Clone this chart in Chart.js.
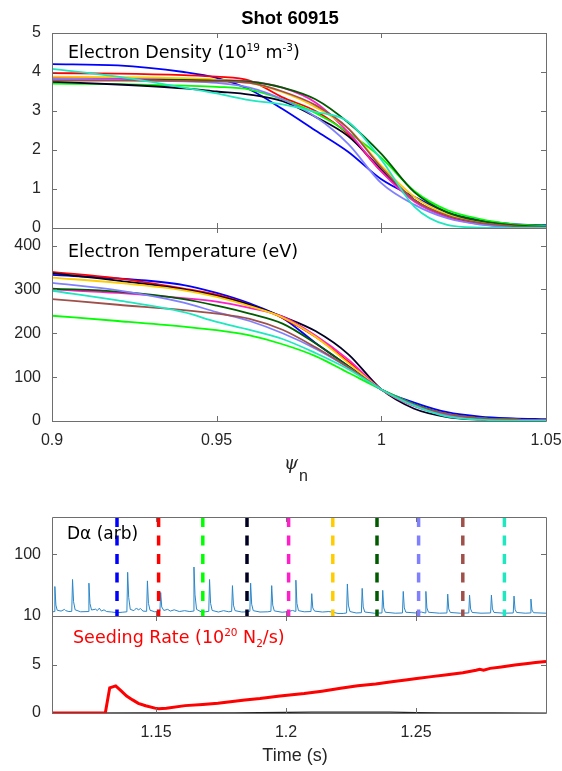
<!DOCTYPE html>
<html>
<head>
<meta charset="utf-8">
<script src="https://cdn.jsdelivr.net/npm/chart.js@4.4.0/dist/chart.umd.min.js"></script>
<style>
  body { margin: 0; background: #fff; width: 562px; height: 771px; position: relative; overflow: hidden; }
  canvas { position: absolute; left: 0; }
</style>
</head>
<body>
<canvas id="ne" width="562" height="240" style="top:0"></canvas>
<canvas id="te" width="562" height="290" style="top:200px"></canvas>
<canvas id="da" width="562" height="150" style="top:490px"></canvas>
<canvas id="seed" width="562" height="171" style="top:600px"></canvas>
<script>
// ---- profile data (one curve per frame time) ----
const psi = [0.90, 0.92, 0.94, 0.95, 0.96, 0.97, 0.98, 0.99, 1.00, 1.01, 1.02, 1.03, 1.04, 1.05];
const psiTicks = [0.9, 0.95, 1, 1.05];
const neTicks = [0, 1, 2, 3, 4, 5];
const teTicks = [0, 100, 200, 300, 400];

const frameTimes = [1.135, 1.151, 1.168, 1.185, 1.201, 1.218, 1.235, 1.251, 1.268, 1.284];
const frameColors = ['#0000ff', '#ff0000', '#00ff00', '#000022', '#ff1ec8', '#ffcc00', '#005a00', '#8080ff', '#a0504a', '#1ee8c0'];

// electron density, 1e19 m^-3
const ne1135 = [4.20, 4.17, 4.00, 3.85, 3.55, 3.05, 2.50, 1.95, 1.25, 0.80, 0.40, 0.20, 0.10, 0.07];
const ne1151 = [3.97, 3.96, 3.92, 3.88, 3.78, 3.35, 3.00, 2.40, 1.45, 0.72, 0.30, 0.11, 0.04, 0.02];
const ne1168 = [3.70, 3.69, 3.65, 3.62, 3.55, 3.30, 2.95, 2.45, 1.80, 0.95, 0.46, 0.23, 0.10, 0.05];
const ne1185 = [3.75, 3.68, 3.58, 3.50, 3.42, 3.25, 2.85, 2.35, 1.50, 0.72, 0.30, 0.12, 0.05, 0.02];
const ne1201 = [3.85, 3.84, 3.82, 3.80, 3.76, 3.60, 3.22, 2.45, 1.45, 0.68, 0.28, 0.10, 0.04, 0.02];
const ne1218 = [3.88, 3.87, 3.84, 3.80, 3.72, 3.48, 3.10, 2.55, 1.60, 0.80, 0.35, 0.15, 0.06, 0.03];
const ne1235 = [3.80, 3.80, 3.80, 3.78, 3.75, 3.60, 3.30, 2.70, 1.90, 0.92, 0.40, 0.18, 0.07, 0.03];
const ne1251 = [3.82, 3.80, 3.76, 3.72, 3.60, 3.30, 2.85, 2.15, 1.15, 0.60, 0.25, 0.09, 0.03, 0.01];
const ne1268 = [3.78, 3.78, 3.77, 3.76, 3.72, 3.50, 3.15, 2.55, 1.55, 0.72, 0.32, 0.13, 0.05, 0.02];
const ne1284 = [4.08, 3.88, 3.60, 3.45, 3.28, 3.17, 2.98, 2.72, 1.75, 0.55, 0.08, 0.01, 0.00, 0.00];

// electron temperature, eV
const te1135 = [333, 325, 310, 292, 268, 235, 178, 125, 72, 42, 20, 10, 6, 4];
const te1151 = [340, 325, 302, 288, 265, 235, 192, 135, 72, 36, 15, 6, 3, 2];
const te1168 = [240, 228, 215, 207, 195, 175, 148, 110, 72, 38, 15, 6, 3, 2];
const te1185 = [337, 320, 300, 285, 265, 238, 205, 152, 72, 28, 9, 3, 1, 1];
const te1201 = [300, 292, 280, 272, 258, 238, 195, 140, 72, 34, 13, 5, 2, 1];
const te1218 = [327, 315, 298, 283, 262, 236, 192, 132, 72, 36, 14, 6, 3, 2];
const te1235 = [302, 295, 278, 263, 245, 222, 177, 125, 72, 38, 16, 7, 3, 2];
const te1251 = [315, 298, 270, 248, 228, 200, 165, 122, 72, 36, 14, 6, 2, 1];
const te1268 = [278, 265, 253, 245, 233, 208, 168, 122, 72, 37, 16, 6, 3, 2];
const te1284 = [297, 275, 248, 226, 208, 187, 155, 118, 72, 35, 10, 3, 1, 1];

const neProfiles = [ne1135, ne1151, ne1168, ne1185, ne1201, ne1218, ne1235, ne1251, ne1268, ne1284];
const teProfiles = [te1135, te1151, te1168, te1185, te1201, te1218, te1235, te1251, te1268, te1284];

// ---- time traces ----
const timeTicks = [1.15, 1.2, 1.25];
const daTicks = [10, 100];
const seedTicks = [0, 5, 10];

const daTime = [
  1.1100, 1.1108, 1.1111, 1.1115, 1.1120, 1.1135, 1.1148, 1.1153, 1.1165, 1.1176, 1.1179, 1.1183, 1.1189,
  1.1210, 1.1239, 1.1242, 1.1246, 1.1252, 1.1268, 1.1274, 1.1282, 1.1290, 1.1300, 1.1310, 1.1330, 1.1350,
  1.1370, 1.1388, 1.1391, 1.1395, 1.1401, 1.1415, 1.1425, 1.1432, 1.1440, 1.1450, 1.1464, 1.1467, 1.1471,
  1.1477, 1.1495, 1.1515, 1.1518, 1.1522, 1.1530, 1.1545, 1.1555, 1.1570, 1.1590, 1.1610, 1.1630, 1.1643,
  1.1646, 1.1650, 1.1656, 1.1675, 1.1690, 1.1703, 1.1706, 1.1710, 1.1716, 1.1740, 1.1760, 1.1780, 1.1791,
  1.1794, 1.1798, 1.1804, 1.1830, 1.1850, 1.1861, 1.1864, 1.1868, 1.1874, 1.1900, 1.1930, 1.1942, 1.1945,
  1.1949, 1.1955, 1.1985, 1.2010, 1.2025, 1.2035, 1.2038, 1.2042, 1.2048, 1.2070, 1.2096, 1.2099, 1.2103,
  1.2110, 1.2140, 1.2165, 1.2180, 1.2200, 1.2220, 1.2233, 1.2236, 1.2240, 1.2246, 1.2270, 1.2290, 1.2293,
  1.2297, 1.2303, 1.2340, 1.2369, 1.2372, 1.2376, 1.2382, 1.2420, 1.2448, 1.2451, 1.2455, 1.2461, 1.2500,
  1.2520, 1.2535, 1.2538, 1.2542, 1.2548, 1.2590, 1.2619, 1.2622, 1.2626, 1.2632, 1.2670, 1.2703, 1.2706,
  1.2710, 1.2716, 1.2750, 1.2787, 1.2790, 1.2794, 1.2800, 1.2840, 1.2874, 1.2877, 1.2881, 1.2887, 1.2920,
  1.2939, 1.2942, 1.2946, 1.2952, 1.3000
];
const daSignal = [
  11.6, 11.8, 30, 15, 12.4, 12.0, 12.8, 12.2, 11.8, 11.9, 39, 17, 12.6,
  11.7, 11.8, 34, 16, 12.5, 12.9, 12.2, 13.4, 12.0, 12.6, 11.8, 11.6, 11.3,
  11.5, 11.7, 51, 20, 12.8, 12.2, 13.5, 12.5, 13.2, 12.0, 11.9, 37, 16,
  12.4, 11.7, 11.9, 24, 14, 12.3, 12.8, 12.0, 12.6, 11.8, 12.2, 11.8, 12.0,
  62, 22, 12.8, 11.6, 11.7, 11.9, 39, 16, 12.3, 11.6, 12.2, 11.7, 11.9,
  31, 15, 12.2, 11.6, 11.7, 11.9, 34, 15.5, 12.2, 11.6, 11.7, 11.9, 31,
  15, 12.1, 11.5, 11.8, 12.3, 11.9, 38, 16, 12.2, 11.7, 11.8, 23, 13.5,
  12.0, 11.6, 11.8, 11.5, 11.0, 11.0, 11.2, 33, 15, 11.8, 11.2, 11.3, 28,
  14, 11.6, 11.1, 11.2, 26, 13.5, 11.5, 11.1, 11.2, 25, 13.5, 11.5, 11.2,
  11.6, 11.2, 25, 13.5, 11.5, 11.1, 11.2, 22.6, 13, 11.4, 11.1, 11.2, 21.8,
  13, 11.4, 11.1, 11.2, 21.8, 13, 11.4, 11.1, 11.2, 21, 12.8, 11.4, 11.1,
  11.2, 18.8, 12.5, 11.3, 11.1
];

const seedTime = [1.110, 1.1305, 1.1322, 1.1345, 1.1365, 1.1387, 1.1410, 1.1432, 1.1460, 1.1496, 1.1510,
  1.1540, 1.1612, 1.1680, 1.1738, 1.1842, 1.1900, 1.1977, 1.2070, 1.2138, 1.2210, 1.2276, 1.2345, 1.2414,
  1.2460, 1.2503, 1.2560, 1.2620, 1.2680, 1.2731, 1.2745, 1.2760, 1.2785, 1.2828, 1.2880, 1.2930, 1.2960, 1.3000];
const seedRate = [0, 0, 2.6, 2.8, 2.3, 1.75, 1.35, 1.0, 0.75, 0.5, 0.45,
  0.5, 0.76, 0.88, 1.0, 1.35, 1.5, 1.75, 2.0, 2.25, 2.55, 2.8, 3.0, 3.25,
  3.4, 3.55, 3.75, 3.95, 4.15, 4.4, 4.5, 4.42, 4.6, 4.75, 4.95, 5.1, 5.2, 5.3];
const puffTime = [1.110, 1.180, 1.200, 1.220, 1.240, 1.260, 1.300];
const puffRate = [0, 0.02, 0.06, 0.1, 0.08, 0.02, 0];

// ---- drawing helpers ----
const tickFont = { family: "'Liberation Sans', Arial, sans-serif", size: 16 };
const tickColor = '#262626';
const textFamily = "'DejaVu Sans', Verdana, sans-serif";

function drawRich(ctx, t) {
  let cx = t.x;
  ctx.fillStyle = t.color || '#000';
  ctx.textBaseline = 'alphabetic';
  ctx.textAlign = 'left';
  t.parts.forEach(([s, kind]) => {
    const sz = kind ? t.size * 0.6 : t.size;
    ctx.font = `${t.style || ''} ${sz}px ${t.family || textFamily}`;
    const dy = kind === 'sup' ? -t.size * 0.42 : kind === 'sub' ? t.size * 0.22 : 0;
    ctx.fillText(s, cx, t.y + dy);
    cx += ctx.measureText(s).width;
  });
}

const frame = {
  id: 'frame',
  afterDatasetsDraw(chart, args, opts) {
    const { ctx, chartArea: a } = chart;
    const x = chart.scales.x, y = chart.scales.y;
    ctx.save();
    ctx.strokeStyle = '#6e6e6e';
    ctx.lineWidth = 1;
    ctx.beginPath();
    (opts.xTicks || []).forEach(v => {
      const px = Math.round(x.getPixelForValue(v)) + 0.5;
      ctx.moveTo(px, a.bottom); ctx.lineTo(px, a.bottom - 5);
      ctx.moveTo(px, a.top); ctx.lineTo(px, a.top + 5);
    });
    (opts.yTicks || []).forEach(v => {
      const py = Math.round(y.getPixelForValue(v)) + 0.5;
      ctx.moveTo(a.left, py); ctx.lineTo(a.left + 5, py);
      ctx.moveTo(a.right, py); ctx.lineTo(a.right - 5, py);
    });
    ctx.rect(Math.round(a.left) + 0.5, Math.round(a.top) + 0.5, Math.round(a.width), Math.round(a.height));
    ctx.stroke();
    (opts.texts || []).forEach(t => drawRich(ctx, t));
    (opts.centered || []).forEach(t => {
      ctx.font = t.font;
      ctx.fillStyle = t.color || '#000';
      ctx.textAlign = 'center';
      ctx.fillText(t.text, t.x, t.y);
    });
    ctx.restore();
  }
};

function yScale(extra, ticks) {
  return Object.assign({
    afterBuildTicks: s => { s.ticks = ticks.map(v => ({ value: v })); },
    afterFit: s => { s.width = 52; s.paddingTop = 0; s.paddingBottom = 0; },
    grid: { display: false, drawTicks: false },
    border: { display: false },
    ticks: { font: tickFont, color: tickColor, padding: 11, callback: v => String(v) }
  }, extra);
}

function xScale(extra, ticks, height) {
  return Object.assign({
    type: 'linear',
    afterBuildTicks: s => { s.ticks = ticks.map(v => ({ value: v })); },
    afterFit: s => { if (height) s.height = height; s.paddingLeft = 0; s.paddingRight = 0; },
    grid: { display: false, drawTicks: false },
    border: { display: false },
    ticks: { font: tickFont, color: tickColor, padding: 10, maxRotation: 0,
      callback: v => String(Math.round(v * 1000) / 1000) }
  }, extra);
}

function baseOptions(padding, scales, frameOpts) {
  return {
    responsive: false,
    animation: false,
    events: [],
    layout: { padding: Object.assign({ left: 0, right: 16 }, padding) },
    plugins: { legend: { display: false }, tooltip: { enabled: false }, frame: frameOpts },
    scales
  };
}

function profileSets(rows) {
  return rows.map((row, i) => ({
    data: psi.map((p, j) => ({ x: p, y: row[j] })),
    borderColor: frameColors[i],
    borderWidth: 1.8,
    pointRadius: 0,
    cubicInterpolationMode: 'monotone',
    order: rows.length - i
  }));
}

// ---- electron density ----
new Chart(document.getElementById('ne'), {
  type: 'line',
  data: { datasets: profileSets(neProfiles) },
  options: baseOptions({ top: 33, bottom: 12 }, {
    x: xScale({ min: 0.9, max: 1.05, display: false }, psiTicks),
    y: yScale({ min: 0, max: 5 }, neTicks)
  }, {
    xTicks: psiTicks, yTicks: neTicks,
    texts: [{ x: 68, y: 58, size: 17.5, parts: [['Electron Density (10'], ['19', 'sup'], [' m'], ['-3', 'sup'], [')']] }],
    centered: [{ text: 'Shot 60915', x: 290, y: 23.5, font: "bold 18.5px 'Liberation Sans', Arial, sans-serif" }]
  }),
  plugins: [frame]
});

// ---- electron temperature ----
new Chart(document.getElementById('te'), {
  type: 'line',
  data: { datasets: profileSets(teProfiles) },
  options: baseOptions({ top: 28, bottom: 0 }, {
    x: xScale({ min: 0.9, max: 1.05 }, psiTicks, 69),
    y: yScale({ min: 0, max: 440 }, teTicks)
  }, {
    xTicks: psiTicks, yTicks: teTicks,
    texts: [
      { x: 68, y: 57, size: 17.5, parts: [['Electron Temperature (eV)']] },
      { x: 284, y: 269, size: 18, style: 'italic', family: "'DejaVu Serif', serif", color: '#262626', parts: [['ψ']] },
      { x: 299, y: 281, size: 16, family: "'Liberation Sans', Arial, sans-serif", color: '#262626', parts: [['n']] }
    ]
  }),
  plugins: [frame]
});

// ---- D-alpha with frame-time markers ----
const markerSets = frameTimes.map((t, i) => ({
  data: [{ x: t, y: 400 }, { x: t, y: 10 }],
  borderColor: frameColors[i],
  borderWidth: 3.5,
  borderDash: [10, 8.5],
  pointRadius: 0
}));
new Chart(document.getElementById('da'), {
  type: 'line',
  data: {
    datasets: [{
      data: daTime.map((t, i) => ({ x: t, y: daSignal[i] })),
      borderColor: '#2a86c8',
      borderWidth: 1,
      pointRadius: 0,
      tension: 0,
      order: 20
    }].concat(markerSets)
  },
  options: baseOptions({ top: 27, bottom: 24 }, {
    x: xScale({ min: 1.11, max: 1.30, display: false }, timeTicks),
    y: yScale({ type: 'logarithmic', min: 10, max: 400 }, daTicks)
  }, {
    xTicks: timeTicks, yTicks: daTicks,
    texts: [{ x: 67, y: 49, size: 17, parts: [['Dα (arb)']] }]
  }),
  plugins: [frame]
});

// ---- seeding rate ----
new Chart(document.getElementById('seed'), {
  type: 'line',
  data: {
    datasets: [
      { data: seedTime.map((t, i) => ({ x: t, y: seedRate[i] })), borderColor: '#ff0000', borderWidth: 3, pointRadius: 0, tension: 0 },
      { data: puffTime.map((t, i) => ({ x: t, y: puffRate[i] })), borderColor: '#222', borderWidth: 1.2, pointRadius: 0, tension: 0.3 }
    ]
  },
  options: baseOptions({ top: 16, bottom: 0 }, {
    x: xScale({ min: 1.11, max: 1.30 }, timeTicks, 58),
    y: yScale({ min: 0, max: 10 }, [0, 5])
  }, {
    xTicks: timeTicks, yTicks: seedTicks,
    texts: [{ x: 73, y: 43, size: 17.5, color: '#ff0000', parts: [['Seeding Rate (10'], ['20', 'sup'], [' N'], ['2', 'sub'], ['/s)']] }],
    centered: [{ text: 'Time (s)', x: 295, y: 161, font: "18px 'Liberation Sans', Arial, sans-serif", color: '#262626' }]
  }),
  plugins: [frame]
});
</script>
</body>
</html>
